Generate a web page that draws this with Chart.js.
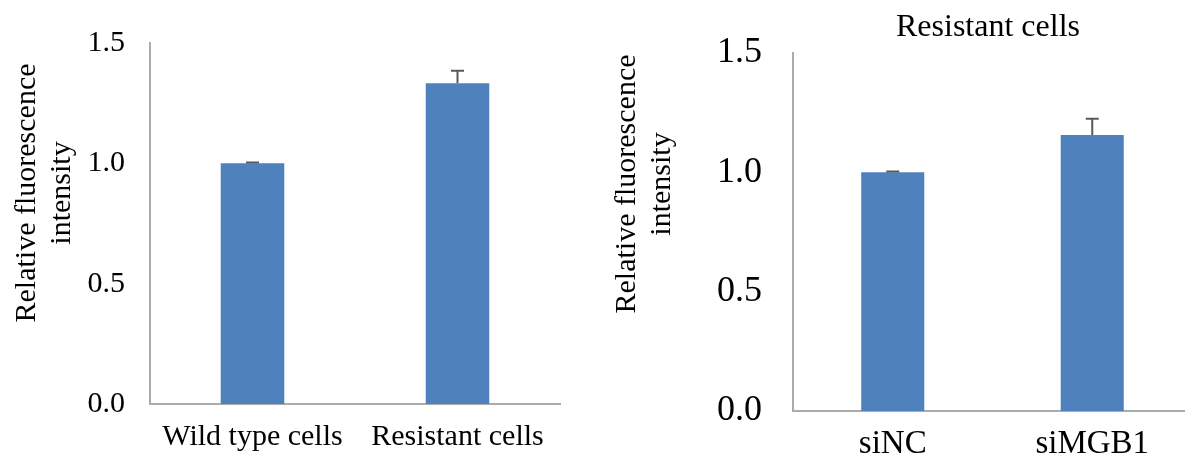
<!DOCTYPE html>
<html lang="en">
<head>
  <meta charset="UTF-8">
  <title>Relative fluorescence intensity</title>
  <style>
    body {
      margin: 0;
      width: 1185px;
      height: 464px;
      overflow: hidden;
      background: #ffffff;
      position: relative;
    }
    .panel {
      position: absolute;
      top: 0;
      width: 600px;
      height: 464px;
    }
    #left-panel { left: 0; }
    #right-panel { left: 600px; }
  </style>
</head>
<body>

<div class="panel" id="left-panel"><canvas id="leftChart"></canvas></div>
<div class="panel" id="right-panel"><canvas id="rightChart"></canvas></div>

<script src="https://cdn.jsdelivr.net/npm/chart.js"></script>
<script>
  // left panel: wild type vs resistant
  const leftCategories = ['Wild type cells', 'Resistant cells'];
  const leftValues = [1.0, 1.333];
  const leftErrors = [0.003, 0.052];

  // right panel: resistant cells, siNC vs siMGB1
  const rightTitle = 'Resistant cells';
  const rightCategories = ['siNC', 'siMGB1'];
  const rightValues = [1.0, 1.156];
  const rightErrors = [0.003, 0.068];

  const yTicks = [0, 0.5, 1.0, 1.5];
  const yTitleLines = ['Relative fluorescence', 'intensity'];

  const serif = "'Liberation Serif', 'Times New Roman', serif";
  const barBlue = '#4F81BD';
  const axisGray = '#ABABAB';
  const errGray = '#595959';

  // error bars, drawn through the chart's own scales
  const errorBars = {
    id: 'errorBars',
    afterDatasetsDraw(chart, args, opts) {
      const ctx = chart.ctx;
      const y = chart.scales.y;
      const meta = chart.getDatasetMeta(0);
      const vals = chart.data.datasets[0].data;
      ctx.save();
      ctx.strokeStyle = errGray;
      ctx.lineWidth = 2;
      meta.data.forEach((bar, i) => {
        const top = y.getPixelForValue(vals[i] + opts.errors[i]);
        const base = y.getPixelForValue(vals[i]);
        ctx.beginPath();
        ctx.moveTo(bar.x, base);
        ctx.lineTo(bar.x, top);
        ctx.moveTo(bar.x - 6.5, top);
        ctx.lineTo(bar.x + 6.5, top);
        ctx.stroke();
      });
      ctx.restore();
    }
  };

  // rotated two-line axis title and optional chart title
  const sideText = {
    id: 'sideText',
    afterDraw(chart, args, opts) {
      const ctx = chart.ctx;
      ctx.save();
      ctx.fillStyle = '#000';
      ctx.font = opts.titleSize + 'px ' + serif;
      ctx.textAlign = 'center';
      ctx.textBaseline = 'alphabetic';
      ctx.translate(opts.x, opts.y);
      ctx.rotate(-Math.PI / 2);
      yTitleLines.forEach((line, i) => {
        ctx.fillText(line, 0, i * opts.lineGap);
      });
      ctx.restore();
      if (opts.heading) {
        ctx.save();
        ctx.fillStyle = '#000';
        ctx.font = opts.headingSize + 'px ' + serif;
        ctx.textAlign = 'center';
        ctx.textBaseline = 'middle';
        ctx.fillText(opts.heading, opts.headingX, opts.headingY);
        ctx.restore();
      }
    }
  };

  function makeChart(id, cats, vals, errs, cfg) {
    return new Chart(document.getElementById(id), {
      type: 'bar',
      data: {
        labels: cats,
        datasets: [{
          data: vals,
          backgroundColor: barBlue,
          borderWidth: 0,
          barPercentage: cfg.barPct,
          categoryPercentage: 1.0
        }]
      },
      options: {
        responsive: true,
        maintainAspectRatio: false,
        animation: false,
        layout: { padding: { left: 0, right: cfg.padRight, top: cfg.padTop, bottom: 0 } },
        plugins: {
          legend: { display: false },
          tooltip: { enabled: false },
          errorBars: { errors: errs },
          sideText: cfg.text
        },
        scales: {
          x: {
            grid: { display: false, drawTicks: false },
            border: { display: true, color: axisGray, width: 2 },
            ticks: {
              color: '#000',
              padding: cfg.xPad,
              maxRotation: 0,
              autoSkip: false,
              font: { family: serif, size: cfg.xFont, lineHeight: 1.2 }
            },
            afterFit: s => { s.height = cfg.xHeight; }
          },
          y: {
            min: 0,
            max: 1.5,
            afterBuildTicks: s => { s.ticks = yTicks.map(v => ({ value: v })); },
            grid: { display: false, drawTicks: false },
            border: { display: true, color: axisGray, width: 2 },
            ticks: {
              color: '#000',
              padding: cfg.yPad,
              font: { family: serif, size: cfg.yFont },
              callback: v => Number(v).toFixed(1)
            },
            afterFit: s => { s.width = cfg.yWidth; }
          }
        }
      },
      plugins: [errorBars, sideText]
    });
  }

  makeChart('leftChart', leftCategories, leftValues, leftErrors, {
    barPct: 0.31, padRight: 40, padTop: 41, xHeight: 60, yWidth: 150,
    xPad: 15, yPad: 25, xFont: 30, yFont: 30,
    text: { x: 35, y: 193, lineGap: 35, titleSize: 30 }
  });

  makeChart('rightChart', rightCategories, rightValues, rightErrors, {
    barPct: 0.316, padRight: 8, padTop: 53, xHeight: 53, yWidth: 193,
    xPad: 14, yPad: 31, xFont: 33, yFont: 36,
    text: { x: 35, y: 184, lineGap: 35, titleSize: 30,
            heading: rightTitle, headingSize: 32, headingX: 388, headingY: 28 }
  });
</script>

</body>
</html>
